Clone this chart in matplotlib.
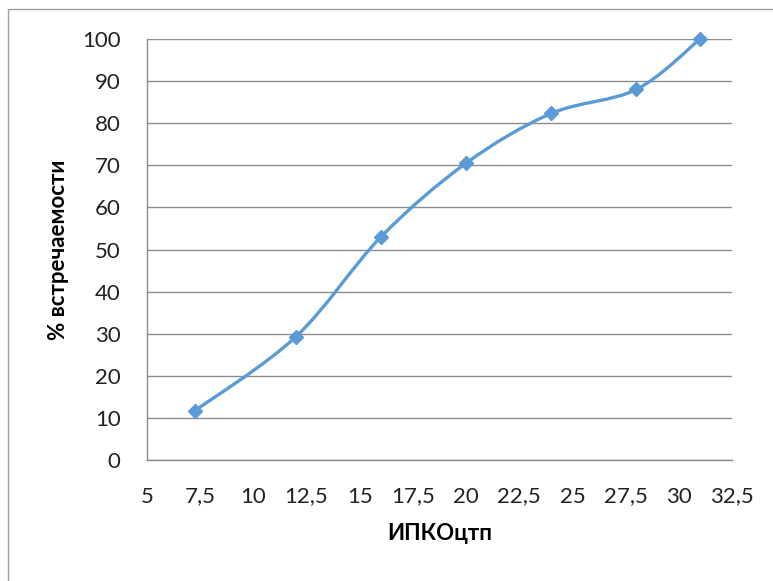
import numpy as np
import matplotlib
matplotlib.use('Agg')
import matplotlib.pyplot as plt
from matplotlib.path import Path
from matplotlib.patches import PathPatch, Rectangle

# values
ipko = [7.25, 12.0, 16.0, 20.0, 24.0, 28.0, 31.0]
occurrence = [11.7, 29.3, 53.0, 70.5, 82.3, 88.0, 100.0]
x_ticks = [5, 7.5, 10, 12.5, 15, 17.5, 20, 22.5, 25, 27.5, 30, 32.5]
y_ticks = [0, 10, 20, 30, 40, 50, 60, 70, 80, 90, 100]

line_color = '#5B9BD5'
plt.rcParams['font.family'] = ['Lato', 'DejaVu Sans']


def smooth_path(xs, ys):
    # Excel-like smoothed line: Catmull-Rom segments as cubic Beziers
    pts = np.column_stack([xs, ys])
    n = len(pts)
    verts = [pts[0]]
    codes = [Path.MOVETO]
    for i in range(n - 1):
        p0 = pts[i - 1] if i > 0 else pts[i]
        p1 = pts[i]
        p2 = pts[i + 1]
        p3 = pts[i + 2] if i + 2 < n else pts[i + 1]
        c1 = p1 + (p2 - p0) / 6.0
        c2 = p2 - (p3 - p1) / 6.0
        verts += [c1, c2, p2]
        codes += [Path.CURVE4] * 3
    return Path(verts, codes)


fig = plt.figure(figsize=(7.73, 5.81), dpi=100)
ax = fig.add_axes([0.190, 0.208, 0.757, 0.725])

ax.add_patch(PathPatch(smooth_path(ipko, occurrence), facecolor='none',
                       edgecolor=line_color, lw=2.4, zorder=3, clip_on=False))
ax.plot(ipko, occurrence, linestyle='none', marker='D', markersize=7,
        color=line_color, zorder=4, clip_on=False)

ax.set_xlim(5, 32.5)
ax.set_ylim(0, 100)
ax.set_xticks(x_ticks)
ax.set_xticklabels([('%g' % t).replace('.', ',') for t in x_ticks])
ax.set_yticks(y_ticks)
ax.tick_params(length=0, labelsize=16, labelcolor='#222222')
ax.tick_params(axis='x', pad=19)
ax.tick_params(axis='y', pad=19)
ax.yaxis.grid(True, color='#8c8c8c', lw=1)
ax.set_axisbelow(True)
for s in ['top', 'right']:
    ax.spines[s].set_visible(False)
for s in ['left', 'bottom']:
    ax.spines[s].set_color('#8c8c8c')
    ax.spines[s].set_linewidth(1)

ax.set_xlabel('ИПКОцтп', fontsize=16, fontweight='bold', labelpad=12)
ax.set_ylabel('% встречаемости', fontsize=16, fontweight='bold', labelpad=9)

fig.patches.append(Rectangle((8 / 773, -0.01), 1.0, 1 - 9 / 581 + 0.01,
                             transform=fig.transFigure, fill=False,
                             edgecolor='#a0a0a0', lw=1))

fig.savefig('out.png', dpi=100)
